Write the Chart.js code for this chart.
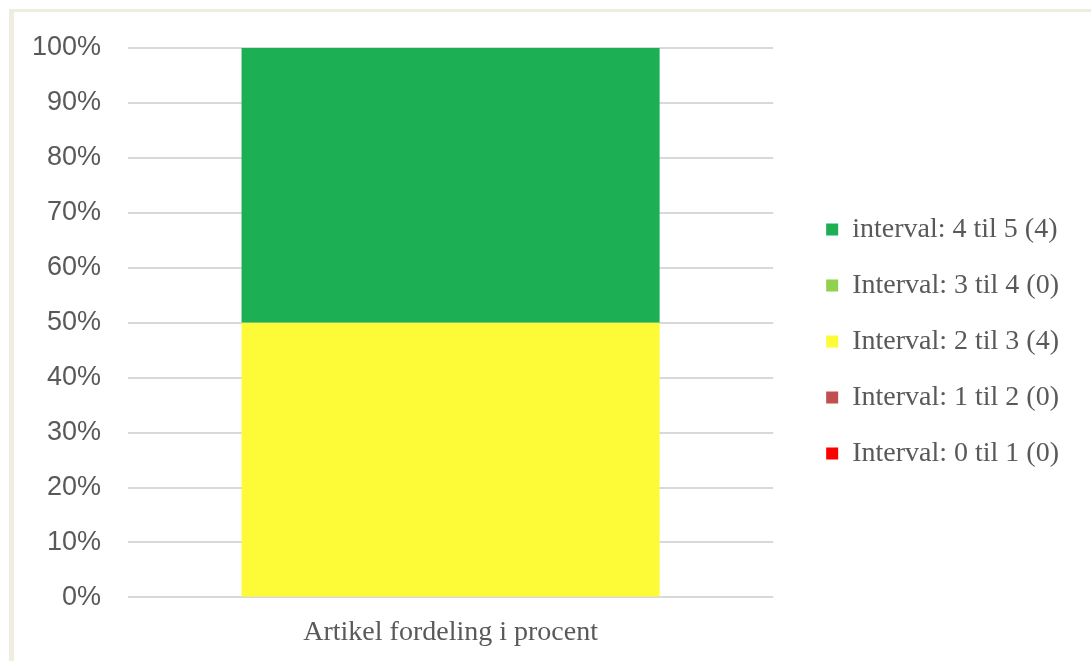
<!DOCTYPE html>
<html>
<head>
<meta charset="utf-8">
<script src="https://cdn.jsdelivr.net/npm/chart.js@4.4.1/dist/chart.umd.min.js"></script>
<style>
    html, body { margin: 0; padding: 0; background: #fff; }
    .frame {
        position: absolute;
        left: 9px;
        top: 9px;
        width: 1077px;
        height: 649px;
        border-left: 5px solid #efede2;
        border-top: 3px solid #efede2;
        background: #fff;
    }
    canvas { display: block; }
</style>
</head>
<body>
<div class="frame">
    <canvas id="distChart" width="1077" height="649"></canvas>
</div>
<script>
// Chart data
const categories = ['Artikel fordeling i procent'];
const seriesLabels = [
    'Interval: 0 til 1 (0)',
    'Interval: 1 til 2 (0)',
    'Interval: 2 til 3 (4)',
    'Interval: 3 til 4 (0)',
    'interval: 4 til 5 (4)'
];
const seriesValues = [0, 0, 50, 0, 50];
const seriesColors = ['#ff0000', '#c0504d', '#fdfb37', '#92d050', '#1caf54'];
const yMax = 100;
const yStep = 10;

const textColor = '#595959';
const serifFont = '"Liberation Serif", serif';

const datasets = seriesLabels.map((label, i) => ({
    label: label,
    data: [seriesValues[i]],
    backgroundColor: seriesColors[i],
    borderWidth: 0,
    categoryPercentage: 1,
    barPercentage: 0.648
}));

// invisible axis used only to reserve space
const spacer = (position, size) => ({
    type: 'linear',
    position: position,
    grid: { display: false },
    border: { display: false },
    ticks: { display: false },
    afterFit: (scale) => {
        if (scale.isHorizontal()) scale.height = size;
        else scale.width = size;
    }
});

const ctx = document.getElementById('distChart');
const chart = new Chart(ctx, {
    type: 'bar',
    data: {
        labels: categories,
        datasets: datasets
    },
    options: {
        responsive: false,
        animation: false,
        layout: {
            autoPadding: false,
            padding: { left: 18, right: 22, top: 12, bottom: 2 }
        },
        plugins: {
            legend: {
                position: 'right',
                reverse: true,
                maxWidth: 400,
                labels: {
                    boxWidth: 12,
                    boxHeight: 12,
                    padding: 28,
                    color: textColor,
                    font: { family: serifFont, size: 28 }
                }
            },
            tooltip: { enabled: false }
        },
        scales: {
            x: {
                stacked: true,
                grid: { display: false },
                border: { display: false },
                ticks: {
                    color: textColor,
                    padding: 10,
                    font: { family: serifFont, size: 28 }
                }
            },
            y: {
                stacked: true,
                min: 0,
                max: yMax,
                grid: {
                    color: '#d9d9d9',
                    lineWidth: 2,
                    drawTicks: false
                },
                border: { display: false },
                ticks: {
                    stepSize: yStep,
                    padding: 27,
                    color: textColor,
                    font: { family: '"Liberation Sans", sans-serif', size: 27 },
                    callback: (value) => value + '%'
                },
                afterFit: (scale) => {
                    scale.width = 96;
                    scale.paddingTop = 0;
                    scale.paddingBottom = 0;
                }
            },
            topGap: spacer('top', 24),
            rightGap: spacer('right', 25)
        }
    }
});
</script>
</body>
</html>
